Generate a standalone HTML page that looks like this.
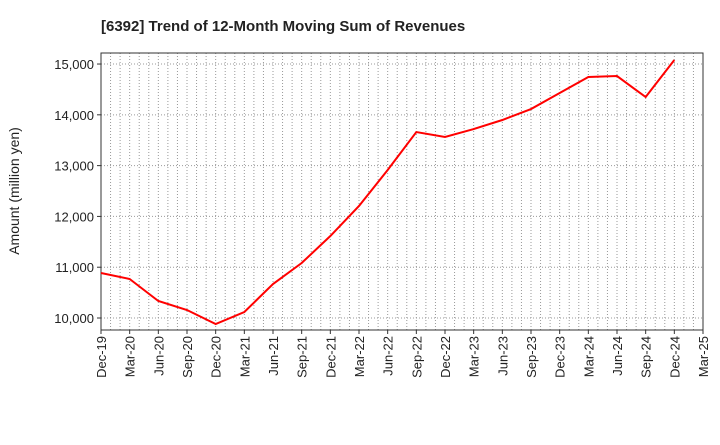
<!DOCTYPE html>
<html><head><meta charset="utf-8"><style>body{margin:0;background:#fff}svg{font-family:"Liberation Sans",sans-serif}</style></head>
<body>
<svg id="c" width="720" height="440"></svg>
<script>
const categories=["Dec-19","Mar-20","Jun-20","Sep-20","Dec-20","Mar-21","Jun-21","Sep-21","Dec-21","Mar-22","Jun-22","Sep-22","Dec-22","Mar-23","Jun-23","Sep-23","Dec-23","Mar-24","Jun-24","Sep-24","Dec-24","Mar-25"];
const revenues=[10886,10768,10335,10157,9882,10118,10669,11083,11614,12205,12913,13661,13563,13720,13898,14114,14429,14744,14764,14350,15079];
const yTicks=[10000,11000,12000,13000,14000,15000];
const NS="http://www.w3.org/2000/svg",svg=document.getElementById('c');
const L=101,R=703,T=53,B=330,yMin=9764,yMax=15217;
const x=i=>L+i*(R-L)/(categories.length-1);
const y=v=>B-(v-yMin)/(yMax-yMin)*(B-T);
function mk(t,a,p){const e=document.createElementNS(NS,t);for(const k in a)e.setAttribute(k,a[k]);(p||svg).appendChild(e);return e;}
const g=mk('g',{});


for(let m=1;m<(categories.length-1)*3;m++){const xx=L+m*(R-L)/((categories.length-1)*3);const l=mk('line',{x1:xx,x2:xx,y1:T,y2:B,stroke:'#999','stroke-dasharray':'1,2','stroke-width':1},g);}
yTicks.forEach(v=>{const l=mk('line',{x1:L,x2:R,y1:y(v),y2:y(v),stroke:'#999','stroke-dasharray':'1,2','stroke-width':1},g);
const t=mk('text',{x:L-7,y:y(v)+5,'text-anchor':'end','font-size':13,fill:'#222'});t.textContent=v.toLocaleString('en-US');
mk('line',{x1:L-4,x2:L,y1:y(v),y2:y(v),stroke:'#333'});});
categories.forEach((c,i)=>{const t=mk('text',{transform:`translate(${x(i)+5},${B+6}) rotate(-90)`,'text-anchor':'end','font-size':13,fill:'#222'});t.textContent=c;
mk('line',{x1:x(i),x2:x(i),y1:B,y2:B+4,stroke:'#333'});});
const f=mk('rect',{x:L,y:T,width:R-L,height:B-T,fill:'none',stroke:'#333'});


const p=mk('polyline',{points:revenues.map((v,i)=>x(i)+','+y(v)).join(' '),fill:'none',stroke:'#f00','stroke-width':2});


const tt=mk('text',{x:101,y:31,'font-size':15,'font-weight':'bold',fill:'#222'});tt.textContent='[6392]  Trend of 12-Month Moving Sum of Revenues';


const yt=mk('text',{transform:'translate(19,191) rotate(-90)','text-anchor':'middle','font-size':14,fill:'#222'});yt.textContent='Amount (million yen)';


</script>
</body></html>
